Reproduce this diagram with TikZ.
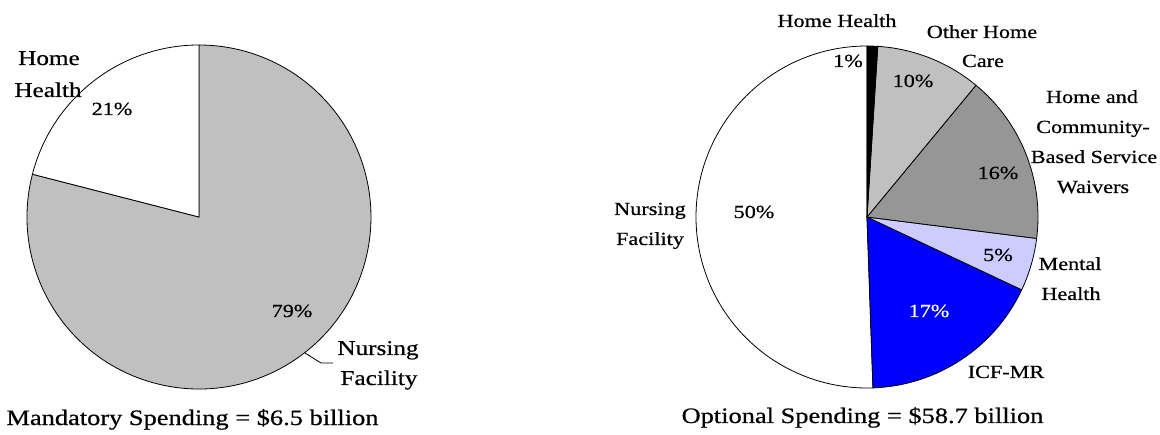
\documentclass[tikz,border=0pt]{standalone}
\usepackage{fontspec}
\setmainfont{Liberation Serif}[FakeStretch=1.2, FakeBold=0.6]
\definecolor{lgray}{HTML}{C0C0C0}
\definecolor{dgray}{HTML}{969696}
\definecolor{lav}{HTML}{CCCCFF}
\definecolor{pblue}{HTML}{0000FF}
\begin{document}
\begin{tikzpicture}[x=1pt,y=1pt,
  wedge/.style={draw=black, line width=0.8pt, line join=round},
  lab/.style={anchor=base, inner sep=0pt, font=\fontsize{18.5}{20}\selectfont},
  biglab/.style={anchor=base, inner sep=0pt, font=\fontsize{21}{23}\selectfont},
  pct/.style={anchor=base, inner sep=0pt, font=\fontsize{18.5}{20}\selectfont},
  captionlab/.style={anchor=base, inner sep=0pt, font=\fontsize{22}{24}\selectfont},
  leader/.style={draw=black, line width=0.8pt}]
\useasboundingbox[fill=white] (0,0) rectangle (1160,434);
% ---------- left pie ----------
\coordinate (L) at (199,217);
\filldraw[wedge, fill=lgray] (L) -- ++(165.6:172) arc[start angle=165.6, end angle=450, radius=172] -- cycle;
\filldraw[wedge, fill=white] (L) -- ++(90:172) arc[start angle=90, end angle=165.6, radius=172] -- cycle;
\node[biglab] (lhh1) at (49,369) {Home};
\node[biglab] (lhh2) at (48,337) {Health};
\node[pct] (l21) at (112,319) {21\%};
\node[pct] (l79) at (292,117) {79\%};
\node[biglab] (lnf1) at (378,79) {Nursing};
\node[biglab] (lnf2) at (379,49) {Facility};
\coordinate (lnfedge) at (305,81);
\coordinate (lnfend) at (333,71);
\draw[leader] (lnfedge) -- (321,71) -- (lnfend);
\node[captionlab] (lcap) at (192.5,9) {Mandatory Spending = \$6.5 billion};
% ---------- right pie ----------
\coordinate (R) at (867,217);
\filldraw[wedge, fill=white] (R) -- ++(90:171) arc[start angle=90, end angle=272, radius=171] -- cycle;
\filldraw[wedge, fill=pblue] (R) -- ++(-88:171) arc[start angle=-88, end angle=-25.2, radius=171] -- cycle;
\filldraw[wedge, fill=lav] (R) -- ++(-25.2:171) arc[start angle=-25.2, end angle=-7.2, radius=171] -- cycle;
\filldraw[wedge, fill=dgray] (R) -- ++(-7.2:171) arc[start angle=-7.2, end angle=50.4, radius=171] -- cycle;
\filldraw[wedge, fill=lgray] (R) -- ++(50.4:171) arc[start angle=50.4, end angle=86.4, radius=171] -- cycle;
\filldraw[wedge, fill=black] (R) -- ++(86.4:171) arc[start angle=86.4, end angle=90, radius=171] -- cycle;
\node[lab] (rhh) at (837,407) {Home Health};
\node[pct] (r1) at (848,367) {1\%};
\node[lab] (roh1) at (982,396) {Other Home};
\node[lab] (roh2) at (983,367) {Care};
\node[pct] (r10) at (913,347) {10\%};
\node[lab] (rhc1) at (1092,331) {Home and};
\node[lab] (rhc2) at (1093,301) {Community-};
\node[lab] (rhc3) at (1094,271) {Based Service};
\node[lab] (rhc4) at (1093,241) {Waivers};
\node[pct] (r16) at (998,255) {16\%};
\node[pct] (r5) at (998,173) {5\%};
\node[lab] (rmh1) at (1070,164) {Mental};
\node[lab] (rmh2) at (1071,134) {Health};
\node[pct, text=white] (r17) at (929,117) {17\%};
\node[lab] (ricf) at (1006,56) {ICF-MR};
\node[pct] (r50) at (754,216) {50\%};
\node[lab] (rnf1) at (650,219) {Nursing};
\node[lab] (rnf2) at (650,189) {Facility};
\node[captionlab] (rcap) at (862.5,11) {Optional Spending = \$58.7 billion};
\end{tikzpicture}
\end{document}
